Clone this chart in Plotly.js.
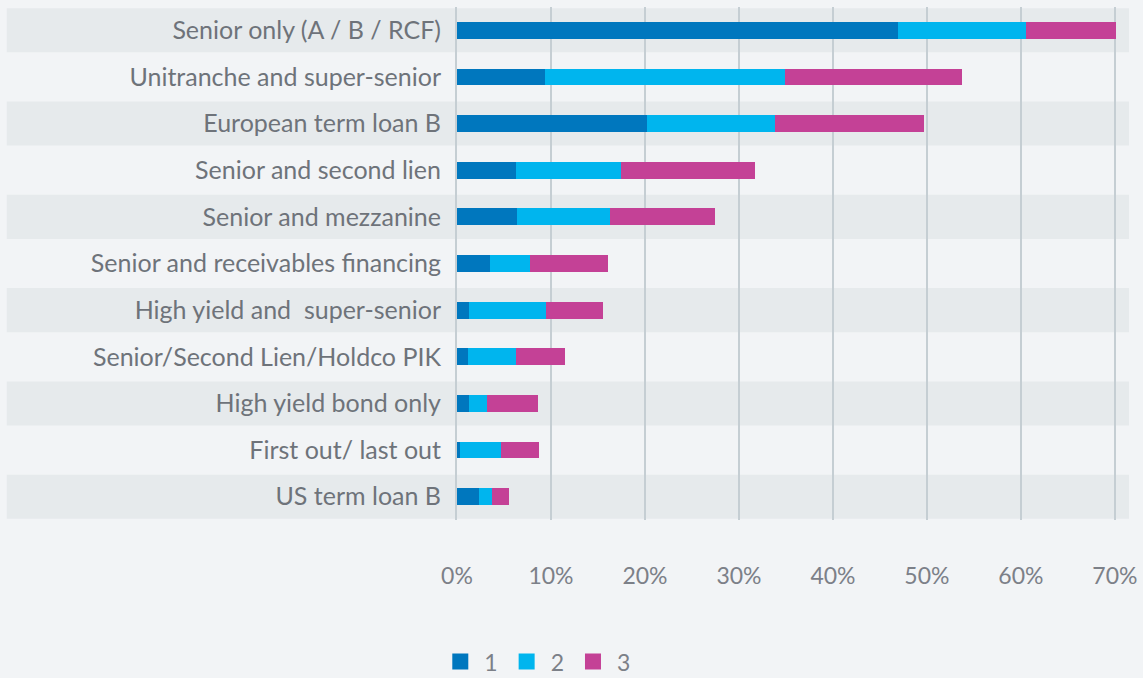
<!DOCTYPE html>
<html>
<head>
<meta charset="utf-8">
<script src="https://cdn.plot.ly/plotly-3.0.1.min.js"></script>
<style>
  html, body { margin: 0; padding: 0; background: #f2f4f6; }
  #chart { width: 1143px; height: 678px; }
</style>
</head>
<body>
<div id="chart"></div>
<script>
// Categories (top to bottom)
const categories = [
  "Senior only (A / B / RCF)",
  "Unitranche and super-senior",
  "European term loan B",
  "Senior and second lien",
  "Senior and mezzanine",
  "Senior and receivables financing",
  "High yield and  super-senior",
  "Senior/Second Lien/Holdco PIK",
  "High yield bond only",
  "First out/ last out",
  "US term loan B"
];

// Series values (percent)
const series1 = [46.9, 9.4, 20.2, 6.3, 6.4, 3.5, 1.3, 1.2, 1.3, 0.3, 2.3];
const series2 = [13.6, 25.5, 13.6, 11.1, 9.9, 4.3, 8.2, 5.1, 1.9, 4.4, 1.4];
const series3 = [9.6, 18.8, 15.9, 14.3, 11.1, 8.3, 6.0, 5.2, 5.4, 4.0, 1.8];

const seriesNames = ["1", "2", "3"];
const tickVals = [0, 10, 20, 30, 40, 50, 60, 70];
const tickText = ["0%", "10%", "20%", "30%", "40%", "50%", "60%", "70%"];

const colors = ["#0077be", "#00b5ee", "#c44196"];
const allSeries = [series1, series2, series3];

const traces = allSeries.map((vals, k) => ({
  type: "bar",
  orientation: "h",
  y: categories,
  x: vals,
  name: seriesNames[k],
  marker: { color: colors[k], line: { width: 0 } },
  width: 0.36,
  showlegend: false,
  hoverinfo: "x+name"
}));

// legend-only entries with larger square swatches
seriesNames.forEach((nm, k) => {
  traces.push({
    type: "scatter",
    mode: "markers",
    x: [null],
    y: [null],
    name: nm,
    marker: { symbol: "square", size: 19, color: colors[k] },
    showlegend: true,
    hoverinfo: "skip"
  });
});

// alternating row bands
const shapes = [];
categories.forEach((c, i) => {
  if (i % 2 === 0) {
    shapes.push({
      type: "rect",
      xref: "paper",
      yref: "y",
      x0: -0.67,
      x1: 1,
      y0: i - 0.472,
      y1: i + 0.472,
      fillcolor: "#e6eaec",
      line: { width: 0 },
      layer: "below"
    });
  }
});

const layout = {
  width: 1143,
  height: 678,
  paper_bgcolor: "#f2f4f6",
  plot_bgcolor: "#f2f4f6",
  margin: { l: 457, r: 14, t: 7, b: 158, autoexpand: false },
  barmode: "stack",
  font: { family: "Lato, 'Open Sans', sans-serif", color: "#6e737a" },
  xaxis: {
    range: [0, 71.5],
    tickvals: tickVals,
    ticktext: tickText,
    showgrid: true,
    gridcolor: "#c5ced3",
    gridwidth: 1.5,
    zeroline: false,
    showline: false,
    ticks: "",
    ticklabelstandoff: 40,
    tickfont: { size: 23, color: "#7c8088" },
    automargin: false,
    fixedrange: true
  },
  yaxis: {
    type: "category",
    categoryorder: "array",
    categoryarray: categories,
    range: [10.5, -0.5],
    showgrid: false,
    zeroline: false,
    showline: true,
    linecolor: "#c5ced3",
    linewidth: 2,
    ticks: "",
    ticklabelstandoff: 9,
    tickfont: { size: 25, color: "#6e737a" },
    automargin: false,
    fixedrange: true
  },
  shapes: shapes,
  showlegend: true,
  legend: {
    orientation: "h",
    x: 0.118,
    xanchor: "center",
    y: -0.276,
    yanchor: "middle",
    font: { size: 23, color: "#7c8088" },
    bgcolor: "rgba(0,0,0,0)",
    itemwidth: 38,
    traceorder: "normal"
  },
  bargap: 0.64
};

Plotly.newPlot("chart", traces, layout, { displayModeBar: false, staticPlot: true });
</script>
</body>
</html>
